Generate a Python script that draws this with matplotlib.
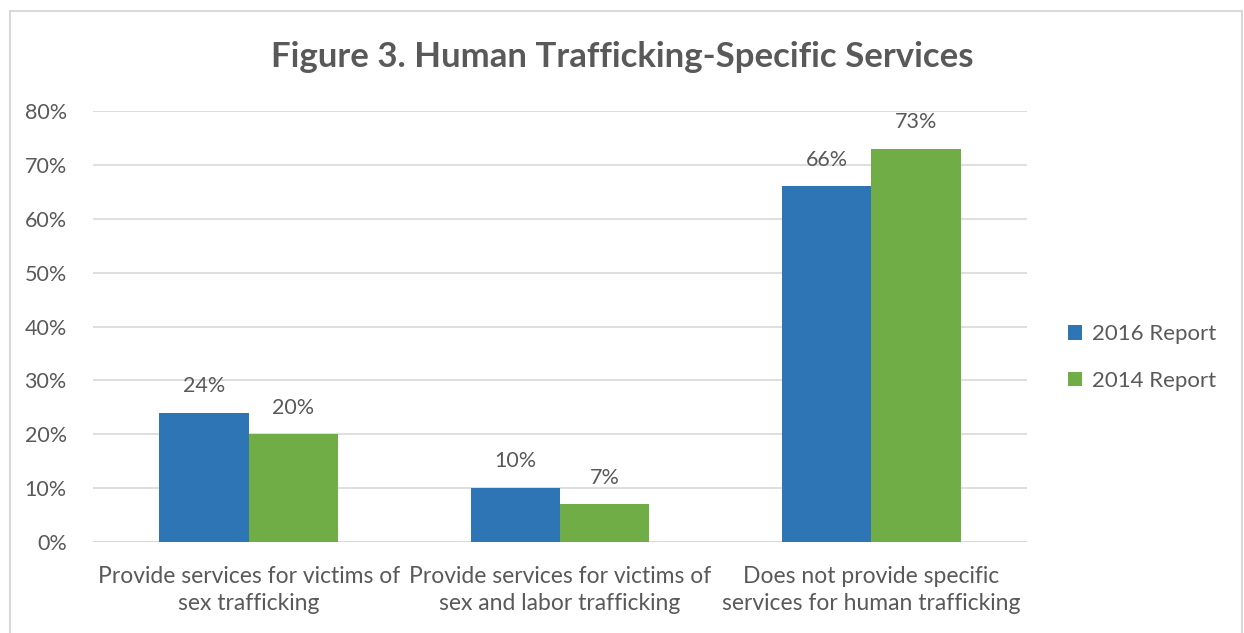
import matplotlib.pyplot as plt
from matplotlib.lines import Line2D
import numpy as np

plt.rcParams['font.family'] = ['Lato', 'DejaVu Sans']

categories = ['Provide services for victims of\nsex trafficking',
              'Provide services for victims of\nsex and labor trafficking',
              'Does not provide specific\nservices for human trafficking']
series_names = ['2016 Report', '2014 Report']
report_2016 = [24, 10, 66]
report_2014 = [20, 7, 73]
yticks = [0, 10, 20, 30, 40, 50, 60, 70, 80]

blue = '#2E75B6'
green = '#70AD47'
txt = '#595959'
grid = '#D9D9D9'

fig = plt.figure(figsize=(12.44, 6.33), dpi=100)
ax = fig.add_axes([0.0748, 0.1438, 0.8256 - 0.0748, 0.8246 - 0.1438])

x = np.arange(len(categories))
w = 0.287
b1 = ax.bar(x - w / 2, report_2016, w, color=blue, label=series_names[0], zorder=2)
b2 = ax.bar(x + w / 2, report_2014, w, color=green, label=series_names[1], zorder=2)

for bars, vals in ((b1, report_2016), (b2, report_2014)):
    for r, v in zip(bars, vals):
        ax.annotate(f'{v}%', (r.get_x() + r.get_width() / 2, v), xytext=(0, 12),
                    textcoords='offset points', ha='center', va='bottom',
                    fontsize=15.5, color=txt)

ax.set_xlim(-0.5, 2.5)
ax.set_ylim(0, 80)
ax.set_yticks(yticks)
ax.set_yticklabels([f'{t}%' for t in yticks])
ax.set_xticks(x)
ax.set_xticklabels(categories, fontsize=16.5, color=txt, linespacing=1.4)
ax.tick_params(axis='y', labelsize=15.5, colors=txt, length=0, pad=19)
ax.tick_params(axis='x', length=0, pad=17)
ax.yaxis.grid(True, color=grid, linewidth=1.2, zorder=0)
ax.set_axisbelow(True)
for s in ax.spines.values():
    s.set_visible(False)
ax.axhline(0, color=grid, linewidth=1.2, zorder=1)

fig.text(0.5, 1 - 57 / 633, 'Figure 3. Human Trafficking-Specific Services', ha='center',
         va='center', fontsize=25, fontweight='bold', color=txt)

leg = ax.legend(loc='center left', bbox_to_anchor=(1.022, 0.428), frameon=False,
                fontsize=16, handlelength=0.65, handleheight=0.65, handletextpad=0.45,
                labelspacing=1.2)
for t in leg.get_texts():
    t.set_color(txt)

# chart border (left, top, right)
bx0, by0, bx1, by1 = 10 / 1244, 0.0, 1242 / 1244, 1 - 11 / 633
for xs, ys in (([bx0, bx0], [by0, by1]), ([bx0, bx1], [by1, by1]), ([bx1, bx1], [by0, by1])):
    fig.add_artist(Line2D(xs, ys, transform=fig.transFigure, color=grid, linewidth=1.5))

fig.savefig('out.png', dpi=100)
